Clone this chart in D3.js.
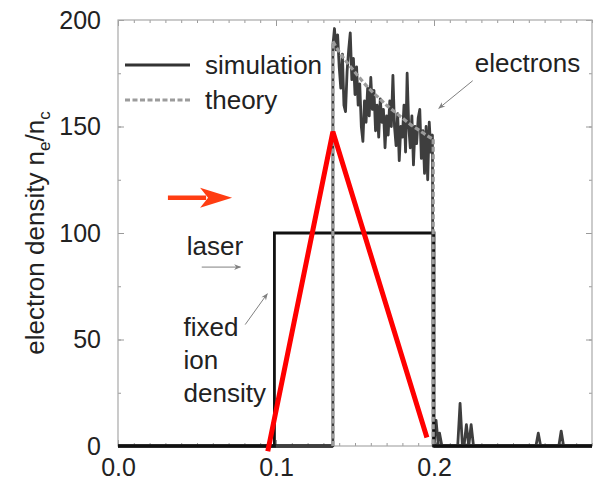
<!DOCTYPE html>
<html>
<head>
<meta charset="utf-8">
<script src="https://cdn.jsdelivr.net/npm/d3@7"></script>
<style>
  html, body { margin: 0; padding: 0; background: #fff; }
  svg { display: block; }
  text { font-family: "Liberation Sans", Arial, Helvetica, sans-serif; }
</style>
</head>
<body>
<div id="chart"></div>
<script>
// ---- data -------------------------------------------------------------
// x position in units of the box length, densities in n_c

// fixed ion density step (simulation, black)
const ionX = [0.0, 0.099, 0.099, 0.2, 0.2, 0.3];
const ionY = [0, 0, 100, 100, 0, 0];

// simulated electron density inside the compressed layer, sampled on a grid
const elecStart = 0.136;
const elecStep = 0.001;
const elecValues = [
  188, 196, 186, 193, 178, 168, 184, 160, 157, 176,
  186, 194, 172, 182, 165, 178, 160, 170, 150, 143,
  162, 152, 168, 155, 173, 158, 167, 148, 160, 145,
  163, 152, 158, 140, 155, 146, 162, 150, 174, 150,
  141, 156, 134, 150, 145, 160, 138, 175, 150, 140,
  155, 132, 150, 142, 154, 158, 135, 148, 128, 150,
  125, 152, 138, 146
];
const elecEnd = 0.1995;

// small electron spikes behind the layer: position, height
const tailX = [0.2013, 0.2035, 0.2165, 0.2205, 0.2235, 0.266, 0.2805];
const tailY = [12, 6, 20, 10, 10, 6, 7];

// theoretical electron density profile
const theoryX = [0.136, 0.140, 0.145, 0.150, 0.155, 0.160, 0.165, 0.170, 0.175, 0.180, 0.185, 0.190, 0.195, 0.1995];
const theoryY = [190, 185, 180, 175.5, 171, 167, 163.5, 160, 157, 154, 151, 148.5, 146, 144];

// red overlay triangle
const redX = [0.0948, 0.136, 0.1955];
const redY = [-2.5, 147.5, 4];

// axes
const xMajorTicks = [0.0, 0.1, 0.2];
const xTickLabels = ["0.0", "0.1", "0.2"];
const yMajorTicks = [0, 50, 100, 150, 200];
const yTickLabels = ["0", "50", "100", "150", "200"];

// ---- layout -----------------------------------------------------------
const W = 595, H = 481;
const M = { left: 118, right: 3, top: 20, bottom: 35 };

const svg = d3.select("#chart").append("svg")
  .attr("width", W).attr("height", H)
  .attr("viewBox", `0 0 ${W} ${H}`);

svg.append("rect").attr("width", W).attr("height", H).attr("fill", "#fff");

const x = d3.scaleLinear().domain([0, 0.3]).range([M.left, W - M.right]);
const y = d3.scaleLinear().domain([0, 200]).range([H - M.bottom, M.top]);

const defs = svg.append("defs");
defs.append("marker")
  .attr("id", "grayhead")
  .attr("viewBox", "0 0 10 10")
  .attr("refX", 9).attr("refY", 5)
  .attr("markerWidth", 9).attr("markerHeight", 7)
  .attr("markerUnits", "userSpaceOnUse")
  .attr("orient", "auto")
  .append("path").attr("d", "M0,1 L10,5 L0,9 L3,5 Z").attr("fill", "#808080");

// ---- frame and ticks (inward on all four sides) -----------------------
const tickColor = "#9a9a9a";
const fontSize = 25;

function styleAxis(g) {
  g.select(".domain").remove();
  g.selectAll(".tick line").attr("stroke", tickColor).attr("stroke-width", 1);
  g.selectAll(".tick text")
    .attr("font-size", fontSize)
    .attr("fill", "#222")
    .attr("font-family", "Liberation Sans, Arial, sans-serif");
}

const xMinor = d3.range(0, 31).map(i => i / 100);
const yMinor = d3.range(0, 9).map(i => i * 25);

// minor ticks
svg.append("g").attr("transform", `translate(0,${y(0)})`)
  .call(d3.axisBottom(x).tickValues(xMinor).tickSize(-3).tickFormat("")).call(styleAxis);
svg.append("g").attr("transform", `translate(0,${y(200)})`)
  .call(d3.axisTop(x).tickValues(xMinor).tickSize(-3).tickFormat("")).call(styleAxis);
svg.append("g").attr("transform", `translate(${x(0)},0)`)
  .call(d3.axisLeft(y).tickValues(yMinor).tickSize(-3).tickFormat("")).call(styleAxis);
svg.append("g").attr("transform", `translate(${x(0.3)},0)`)
  .call(d3.axisRight(y).tickValues(yMinor).tickSize(-3).tickFormat("")).call(styleAxis);

// major ticks with labels
svg.append("g").attr("transform", `translate(0,${y(0)})`)
  .call(d3.axisBottom(x).tickValues(xMajorTicks).tickSize(-6).tickPadding(12)
    .tickFormat((d, i) => xTickLabels[i])).call(styleAxis);
svg.append("g").attr("transform", `translate(0,${y(200)})`)
  .call(d3.axisTop(x).tickValues(xMajorTicks).tickSize(-6).tickFormat("")).call(styleAxis);
svg.append("g").attr("transform", `translate(${x(0)},0)`)
  .call(d3.axisLeft(y).tickValues(yMajorTicks).tickSize(-6).tickPadding(17)
    .tickFormat((d, i) => yTickLabels[i])).call(styleAxis);
svg.append("g").attr("transform", `translate(${x(0.3)},0)`)
  .call(d3.axisRight(y).tickValues(yMajorTicks).tickSize(-6).tickFormat("")).call(styleAxis);

svg.append("rect")
  .attr("x", x(0)).attr("y", y(200))
  .attr("width", x(0.3) - x(0)).attr("height", y(0) - y(200))
  .attr("fill", "none").attr("stroke", "#a8a8a8").attr("stroke-width", 1.2);

// ---- curves -----------------------------------------------------------
const line = d3.line().x(d => x(d[0])).y(d => y(d[1]));

// simulated electrons: zero ahead of the layer, noisy layer, zero behind with spikes
const elecPts = [[0, 0], [elecStart, 0]];
elecValues.forEach((v, i) => elecPts.push([elecStart + i * elecStep, v]));
elecPts.push([elecEnd, 0]);
tailX.forEach((tx, i) => {
  elecPts.push([tx - 0.0015, 0], [tx, tailY[i]], [tx + 0.0015, 0]);
});
elecPts.push([0.3, 0]);

// baseline parts of the simulation drawn heavier
svg.append("path")
  .attr("d", line([[0, 0], [elecStart, 0]]))
  .attr("fill", "none").attr("stroke", "#111").attr("stroke-width", 3.5);
svg.append("path")
  .attr("d", line([[0.2, 0], [0.3, 0]]))
  .attr("fill", "none").attr("stroke", "#111").attr("stroke-width", 3.5);

svg.append("path")
  .attr("d", line(elecPts))
  .attr("fill", "none").attr("stroke", "#3e3e3e").attr("stroke-width", 2.8)
  .attr("stroke-linejoin", "round");

// ion step
svg.append("path")
  .attr("d", line(ionX.map((v, i) => [v, ionY[i]])))
  .attr("fill", "none").attr("stroke", "#111").attr("stroke-width", 2.8);

// theory: vertical front, smooth decay, vertical rear
const theoryCurve = d3.line().x(d => x(d[0])).y(d => y(d[1])).curve(d3.curveMonotoneX);
const theoryPts = theoryX.map((v, i) => [v, theoryY[i]]);
const theoryStyle = p => p.attr("fill", "none").attr("stroke", "#9c9c9c")
  .attr("stroke-width", 3.2).attr("stroke-dasharray", "5,2.5");
svg.append("path").attr("d", line([[0.136, 0], [0.136, theoryY[0]]])).call(theoryStyle);
svg.append("path").attr("d", theoryCurve(theoryPts)).call(theoryStyle);
svg.append("path").attr("d", line([[0.1995, theoryY[theoryY.length - 1]], [0.1995, 0]])).call(theoryStyle);

// ---- legend -----------------------------------------------------------
svg.append("line")
  .attr("x1", 125).attr("x2", 190).attr("y1", 65).attr("y2", 65)
  .attr("stroke", "#333").attr("stroke-width", 3);
svg.append("line")
  .attr("x1", 125).attr("x2", 190).attr("y1", 100).attr("y2", 100)
  .attr("stroke", "#9c9c9c").attr("stroke-width", 3).attr("stroke-dasharray", "5,2.5");
svg.append("text").attr("x", 205).attr("y", 74).attr("font-size", 26).attr("fill", "#222").text("simulation");
svg.append("text").attr("x", 205).attr("y", 109).attr("font-size", 26).attr("fill", "#222").text("theory");

// ---- annotations ------------------------------------------------------
const note = (tx, ty, s) => svg.append("text")
  .attr("x", x(tx)).attr("y", y(ty))
  .attr("font-size", 26).attr("fill", "#222").text(s);

note(0.2258, 175.5, "electrons");
svg.append("line")
  .attr("x1", x(0.2245)).attr("y1", y(171.5))
  .attr("x2", x(0.203)).attr("y2", y(158.5))
  .attr("stroke", "#808080").attr("stroke-width", 1).attr("marker-end", "url(#grayhead)");

note(0.0435, 89.5, "laser");
svg.append("line")
  .attr("x1", x(0.053)).attr("y1", y(84))
  .attr("x2", x(0.0775)).attr("y2", y(84))
  .attr("stroke", "#808080").attr("stroke-width", 1).attr("marker-end", "url(#grayhead)");

note(0.0415, 51.5, "fixed");
note(0.0415, 36, "ion");
note(0.0415, 20.5, "density");
svg.append("line")
  .attr("x1", x(0.0805)).attr("y1", y(57))
  .attr("x2", x(0.0945)).attr("y2", y(71.5))
  .attr("stroke", "#808080").attr("stroke-width", 1).attr("marker-end", "url(#grayhead)");

// ---- axis title -------------------------------------------------------
const title = svg.append("text")
  .attr("transform", `translate(44,${(y(0) + y(200)) / 2}) rotate(-90)`)
  .attr("text-anchor", "middle")
  .attr("font-size", 26).attr("fill", "#222");
title.append("tspan").text("electron density n");
title.append("tspan").attr("font-size", 17).attr("dy", 6).text("e");
title.append("tspan").attr("dy", -6).text("/n");
title.append("tspan").attr("font-size", 17).attr("dy", 6).text("c");

// ---- red overlay ------------------------------------------------------
svg.append("path")
  .attr("d", line(redX.map((v, i) => [v, redY[i]])))
  .attr("fill", "none").attr("stroke", "#ff0000").attr("stroke-width", 5)
  .attr("stroke-linejoin", "miter");

// red arrow pointing in the laser direction
const ax0 = x(0.0316), ax1 = x(0.0722), ay = y(116.5);
svg.append("line")
  .attr("x1", ax0).attr("x2", ax1 - 26).attr("y1", ay).attr("y2", ay)
  .attr("stroke", "#ff3d12").attr("stroke-width", 4.5);
svg.append("path")
  .attr("d", `M${ax1},${ay} L${ax1 - 32},${ay - 10} L${ax1 - 24},${ay} L${ax1 - 32},${ay + 10} Z`)
  .attr("fill", "#ff3d12");
</script>
</body>
</html>
